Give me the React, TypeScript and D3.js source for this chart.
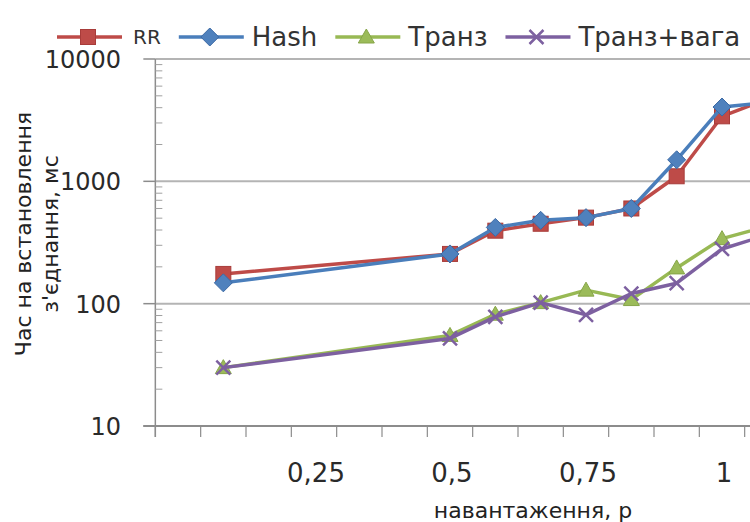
import React, { useEffect, useRef } from "react";
import * as d3 from "d3";

// load (p) values, one per data column
const loads = [1 / 12, 6 / 12, 7 / 12, 8 / 12, 9 / 12, 10 / 12, 11 / 12, 12 / 12, 13 / 12];
const rrValues = [175, 255, 395, 450, 505, 600, 1100, 3400, 4700];
const hashValues = [148, 255, 420, 480, 505, 600, 1500, 4050, 4400];
const tranzValues = [30, 55, 82, 102, 129, 108, 196, 340, 430];
const tranzWeightValues = [30, 52, 78, 102, 81, 121, 147, 280, 365];
const seriesNames = ["RR", "Hash", "Транз", "Транз+вага"];
const xTickLabels = [0.25, 0.5, 0.75, 1];
const yTickValues = [10, 100, 1000, 10000];

export default function App() {
  const ref = useRef<SVGSVGElement | null>(null);

  useEffect(() => {
    const width = 750;
    const svg = d3.select(ref.current);
    svg.selectAll("*").remove();
    const font = "DejaVu Sans";

    // x: plot area starts half a step before 0, and runs past the right edge
    const x = d3.scaleLinear().domain([0, 1]).range([178, 722]);
    const y = d3.scaleLog().domain([10, 10000]).range([426, 59]);
    const left = x(-1 / 24);

    // horizontal gridlines
    svg
      .append("g")
      .selectAll("line")
      .data(yTickValues.slice(1))
      .enter()
      .append("line")
      .attr("x1", left)
      .attr("x2", width + 40)
      .attr("y1", (d) => y(d))
      .attr("y2", (d) => y(d))
      .attr("stroke", "#b4b4b4")
      .attr("stroke-width", 2);

    // y axis line + major ticks
    const yAxis = svg.append("g").attr("stroke", "#8c8c8c");
    yAxis
      .append("line")
      .attr("x1", left)
      .attr("x2", left)
      .attr("y1", y(10000))
      .attr("y2", y(10) + 11)
      .attr("stroke-width", 1.5);
    yAxis
      .selectAll(".maj")
      .data(yTickValues)
      .enter()
      .append("line")
      .attr("x1", left - 12)
      .attr("x2", left)
      .attr("y1", (d) => y(d))
      .attr("y2", (d) => y(d))
      .attr("stroke-width", 1.5);

    // minor ticks (log 2..9) inside the plot
    const minors: number[] = [];
    [10, 100, 1000].forEach((dec) => {
      for (let k = 2; k <= 9; k++) minors.push(dec * k);
    });
    yAxis
      .selectAll(".min")
      .data(minors)
      .enter()
      .append("line")
      .attr("x1", left)
      .attr("x2", left + 7)
      .attr("y1", (d) => y(d))
      .attr("y2", (d) => y(d))
      .attr("stroke", "#a0a0a0")
      .attr("stroke-width", 1);

    // x axis line + ticks between columns
    const xAxis = svg.append("g").attr("stroke", "#8c8c8c");
    xAxis
      .append("line")
      .attr("x1", left - 12)
      .attr("x2", width + 40)
      .attr("y1", y(10))
      .attr("y2", y(10))
      .attr("stroke-width", 2);
    const xTicks = d3.range(-1, 16).map((k) => (k + 0.5) / 12);
    xAxis
      .selectAll(".t")
      .data(xTicks)
      .enter()
      .append("line")
      .attr("x1", (d) => x(d))
      .attr("x2", (d) => x(d))
      .attr("y1", y(10))
      .attr("y2", y(10) + 11)
      .attr("stroke-width", 1.2);

    // tick labels
    svg
      .append("g")
      .selectAll("text")
      .data(yTickValues)
      .enter()
      .append("text")
      .attr("x", 121)
      .attr("y", (d) => y(d) + 9)
      .attr("text-anchor", "end")
      .attr("font-family", font)
      .attr("font-size", 24)
      .attr("fill", "#2a2a2a")
      .text((d) => String(d));

    svg
      .append("g")
      .selectAll("text")
      .data(xTickLabels)
      .enter()
      .append("text")
      .attr("x", (d) => x(d) + 2)
      .attr("y", 482)
      .attr("text-anchor", "middle")
      .attr("font-family", font)
      .attr("font-size", 26)
      .attr("fill", "#2a2a2a")
      .text((d) => String(d).replace(".", ","));

    // axis titles
    svg
      .append("text")
      .attr("x", 533)
      .attr("y", 518)
      .attr("text-anchor", "middle")
      .attr("font-family", font)
      .attr("font-size", 22)
      .attr("fill", "#222")
      .text("навантаження, р");

    const yTitle = svg
      .append("text")
      .attr("transform", "translate(0,234) rotate(-90)")
      .attr("text-anchor", "middle")
      .attr("font-family", font)
      .attr("font-size", 22)
      .attr("fill", "#222");
    yTitle.append("tspan").attr("x", 0).attr("y", 31).text("Час на встановлення");
    yTitle.append("tspan").attr("x", 0).attr("y", 58).text("з'єднання, мс");

    const series = [
      { name: seriesNames[0], values: rrValues, color: "#be4b48", marker: "square" },
      { name: seriesNames[1], values: hashValues, color: "#4a7ebb", marker: "diamond" },
      { name: seriesNames[2], values: tranzValues, color: "#98b954", marker: "triangle" },
      { name: seriesNames[3], values: tranzWeightValues, color: "#7d60a0", marker: "x" },
    ];

    const drawMarker = (g: any, kind: string, color: string, cx: number, cy: number) => {
      if (kind === "square") {
        g.append("rect")
          .attr("x", cx - 7.5)
          .attr("y", cy - 7.5)
          .attr("width", 15)
          .attr("height", 15)
          .attr("fill", color)
          .attr("stroke", "#a83c3a")
          .attr("stroke-width", 1);
      } else if (kind === "diamond") {
        g.append("path")
          .attr("d", `M${cx},${cy - 9}L${cx + 9},${cy}L${cx},${cy + 9}L${cx - 9},${cy}Z`)
          .attr("fill", "#4f81bd")
          .attr("stroke", "#3c6aa5")
          .attr("stroke-width", 1);
      } else if (kind === "triangle") {
        g.append("path")
          .attr("d", `M${cx},${cy - 8}L${cx + 8},${cy + 6}L${cx - 8},${cy + 6}Z`)
          .attr("fill", "#9bbb59")
          .attr("stroke", "#86a548")
          .attr("stroke-width", 1);
      } else {
        g.append("path")
          .attr("d", `M${cx - 7},${cy - 7}L${cx + 7},${cy + 7}M${cx + 7},${cy - 7}L${cx - 7},${cy + 7}`)
          .attr("stroke", color)
          .attr("stroke-width", 2.5);
      }
    };

    const line = d3
      .line<number>()
      .x((d, i) => x(loads[i]))
      .y((d) => y(d));

    // draw in order so blue sits above red, purple above green
    series.forEach((s) => {
      const g = svg.append("g");
      g.append("path")
        .attr("d", line(s.values))
        .attr("fill", "none")
        .attr("stroke", s.color)
        .attr("stroke-width", 3.5)
        .attr("stroke-linejoin", "round");
      s.values.forEach((v, i) => drawMarker(g, s.marker, s.color, x(loads[i]), y(v)));
    });

    // legend, flowing left to right
    let lx = 57;
    const ly = 37;
    series.forEach((s, i) => {
      const g = svg.append("g");
      g.append("line")
        .attr("x1", lx)
        .attr("x2", lx + 65)
        .attr("y1", ly)
        .attr("y2", ly)
        .attr("stroke", s.color)
        .attr("stroke-width", 3.5);
      drawMarker(g, s.marker, s.color, lx + 31, ly);
      const gap = i === 0 ? 11 : 8;
      const t = g
        .append("text")
        .attr("x", lx + 65 + gap)
        .attr("y", ly + (i === 0 ? 7 : 9))
        .attr("font-family", font)
        .attr("font-size", i === 0 ? 20 : 26)
        .attr("fill", "#333")
        .text(s.name);
      const w = (t.node() as SVGTextElement).getComputedTextLength();
      lx = lx + 65 + gap + w + 18;
    });
  }, []);

  return (
    <svg
      ref={ref}
      width={750}
      height={522}
      style={{ position: "absolute", left: 0, top: 0, background: "#fff" }}
    />
  );
}
